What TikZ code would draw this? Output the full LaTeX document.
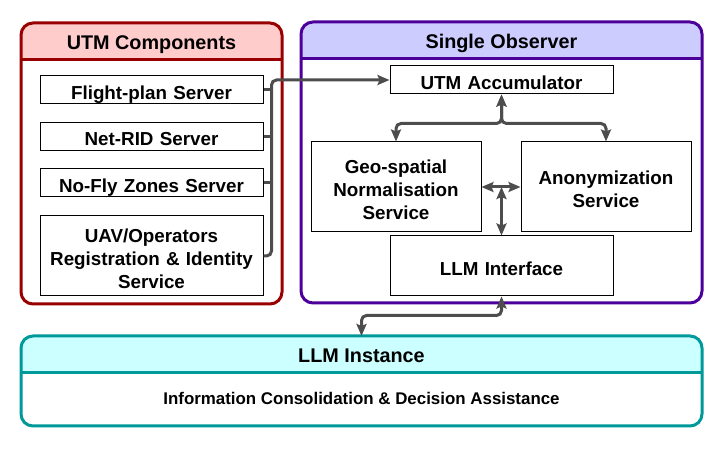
\documentclass[tikz,border=0pt]{standalone}
\usepackage{fontspec}
\setmainfont{Liberation Sans}
\usetikzlibrary{arrows.meta,positioning}

\definecolor{utmred}{HTML}{990000}
\definecolor{utmpink}{HTML}{FFCCCC}
\definecolor{obspurple}{HTML}{4C0099}
\definecolor{obslilac}{HTML}{CCCCFF}
\definecolor{llmteal}{HTML}{009999}
\definecolor{llmcyan}{HTML}{CCFFFF}
\definecolor{linkgray}{HTML}{4D4D4D}

\newcommand{\grouptitlefont}{\bfseries\fontsize{19.8}{23}\selectfont}
\newcommand{\boxfont}{\bfseries\fontsize{18.8}{23}\selectfont}
\newcommand{\notefont}{\bfseries\fontsize{16.9}{20}\selectfont}

\begin{document}
\begin{tikzpicture}[x=1pt, y=1pt, node distance=46.5pt,
    header/.style={path picture={\fill[#1, sharp corners]
      (path picture bounding box.north west) rectangle
      ([yshift=-37pt]path picture bounding box.north east);}}]
    \tikzstyle{group} = [rectangle, rounded corners=12pt, line width=3pt,
      inner sep=0pt, outer sep=0pt, fill=white]
    \tikzstyle{grouptitle} = [anchor=base, inner sep=0pt, font=\grouptitlefont]
    \tikzstyle{component} = [rectangle, draw=black, fill=white, line width=1pt,
      inner sep=0pt, align=center, font=\boxfont,
      execute at begin node={\rule[-4.4pt]{0pt}{27.4pt}},
      execute at end node={\rule[-4.4pt]{0pt}{4.4pt}}]
    \tikzstyle{widebox} = [component, minimum width=223pt, text width=215pt]
    \tikzstyle{squarebox} = [component, minimum width=170pt, text width=165pt, minimum height=90pt]
    \tikzstyle{link} = [draw=linkgray, line width=3pt, rounded corners=5pt]
    \tikzstyle{arrow} = [link, -{Stealth[length=12pt, width=10pt, inset=2pt]}]
    \tikzstyle{biarrow} = [link, {Stealth[length=12pt, width=10pt, inset=2pt]}-{Stealth[length=12pt, width=10pt, inset=2pt]}]

    \path [use as bounding box, fill=white] (0,0) rectangle (724,-449);

    \node (utm) [group, draw=utmred, header=utmpink, minimum width=261pt, minimum height=281pt] at (151.5,-163.5) {};
    \node (observer) [group, draw=obspurple, header=obslilac, minimum width=401pt, minimum height=281pt] at (501.5,-162.5) {};
    \node (llminst) [group, draw=llmteal, header=llmcyan, minimum width=681pt, minimum height=90pt] at (361.5,-381) {};
    \foreach \grp/\col in {utm/utmred, observer/obspurple, llminst/llmteal}
      \draw [\col, line width=3pt] ([yshift=-37pt]\grp.north west) -- ([yshift=-37pt]\grp.north east);

    \node (utmtitle) [grouptitle] at ([yshift=-26.5pt]utm.north) {UTM Components};
    \node (obstitle) [grouptitle] at ([yshift=-26.5pt]observer.north) {Single Observer};
    \node (llmtitle) [grouptitle] at ([yshift=-26.5pt]llminst.north) {LLM Instance};
    \node (llmtask) [anchor=base, inner sep=0pt, font=\notefont] at ([yshift=-23.3pt]llminst.center) {Information Consolidation \& Decision Assistance};

    \node (fpserver) [widebox, minimum height=28pt] at (151.5,-90) {Flight-plan Server};
    \node (ridserver) [widebox, minimum height=27pt, below of=fpserver] {Net-RID Server};
    \node (nfzserver) [widebox, minimum height=28pt, below of=ridserver] {No-Fly Zones Server};
    \node (uavservice) [widebox, minimum height=80pt, node distance=73pt, below of=nfzserver] {UAV/Operators\\Registration \& Identity\\Service};

    \node (accumulator) [widebox, minimum height=28pt] at (501.5,-80) {UTM Accumulator};
    \node (geonorm) [squarebox] at (396,-187) {Geo-spatial\\Normalisation\\Service};
    \node (anonym) [squarebox, right=39pt of geonorm] {Anonymization\\Service};
    \node (llmiface) [widebox, minimum height=60pt] at (501.5,-266) {LLM Interface};

    \foreach \src in {fpserver, ridserver, nfzserver}
      \draw [link] (\src.east) -- ++(8,0);
    \draw [arrow] (uavservice.east) -- ++(8,0) |- (accumulator.west);

    \coordinate (fork) at ([yshift=-29pt]accumulator.south);
    \draw [biarrow] (accumulator.south) -- (fork) -| (geonorm.north);
    \draw [biarrow] (accumulator.south) -- (fork) -| (anonym.north);
    \draw [biarrow] (geonorm.east) -- (anonym.west);
    \draw [biarrow] (llmiface.north) -- (llmiface.north |- geonorm.east);
    \draw [biarrow] (llmiface.south) -- ++(0,-19) -| (llminst.north);
\end{tikzpicture}
\end{document}
